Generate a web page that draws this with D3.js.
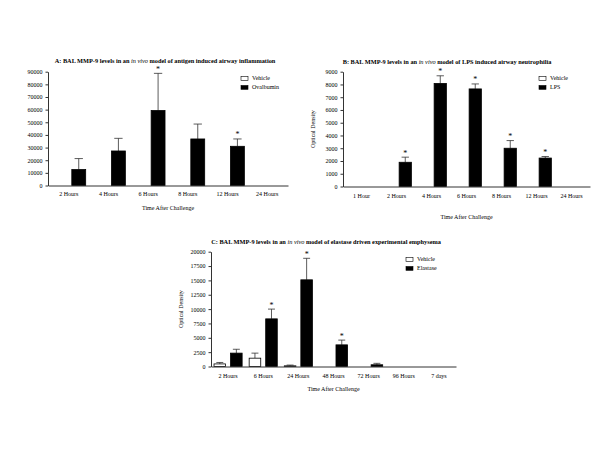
<!DOCTYPE html>
<html>
<head>
<meta charset="utf-8">
<script src="https://cdn.jsdelivr.net/npm/d3@7"></script>
<style>
  body { margin: 0; background: #fff; }
  svg { font-family: "Liberation Serif", "DejaVu Serif", serif; }
</style>
</head>
<body>
<svg id="fig" width="600" height="450"></svg>
<script>
// panel A - antigen induced airway inflammation
const catsA = ["2 Hours", "4 Hours", "6 Hours", "8 Hours", "12 Hours", "24 Hours"];
const vehA = [0, 0, 0, 0, 0, 0];
const vehErrA = [0, 0, 0, 0, 0, 0];
const ovaA = [12600, 27300, 59300, 36800, 31000, 0];
const ovaErrA = [21300, 37300, 88700, 48600, 36800, 0];
const sigA = [0, 0, 1, 0, 1, 0];
const ticksA = [0, 10000, 20000, 30000, 40000, 50000, 60000, 70000, 80000, 90000];

// panel B - LPS induced airway neutrophilia
const catsB = ["1 Hour", "2 Hours", "4 Hours", "6 Hours", "8 Hours", "12 Hours", "24 Hours"];
const vehB = [0, 0, 0, 0, 0, 0, 0];
const vehErrB = [0, 0, 0, 0, 0, 0, 0];
const lpsB = [0, 1900, 8080, 7650, 3000, 2230, 0];
const lpsErrB = [0, 2300, 8680, 8040, 3600, 2350, 0];
const sigB = [0, 1, 1, 1, 1, 1, 0];
const ticksB = [0, 1000, 2000, 3000, 4000, 5000, 6000, 7000, 8000, 9000];

// panel C - elastase driven emphysema
const catsC = ["2 Hours", "6 Hours", "24 Hours", "48 Hours", "72 Hours", "96 Hours", "7 days"];
const vehC = [450, 1450, 120, 0, 0, 0, 0];
const vehErrC = [700, 2330, 250, 0, 0, 0, 0];
const elaC = [2330, 8300, 15100, 3770, 300, 0, 0];
const elaErrC = [3000, 10000, 18850, 4600, 550, 0, 0];
const sigC = [0, 1, 1, 1, 0, 0, 0];
const ticksC = [0, 2500, 5000, 7500, 10000, 12500, 15000, 17500, 20000];

const svg = d3.select("#fig");

function drawPanel(p) {
    const g = svg.append("g");

    const x0 = d3.scaleBand().domain(p.cats).range(p.xr)
        .paddingInner(p.pi).paddingOuter(p.po);
    const x1 = d3.scaleBand().domain(["veh", "trt"]).range([0, x0.bandwidth()])
        .paddingInner(0.3);
    const y = d3.scaleLinear().domain([0, p.ymax]).range(p.yr);

    const rows = [];
    p.cats.forEach((c, i) => {
        rows.push({ cat: c, s: "veh", v: p.veh[i], e: p.vehErr[i], sig: 0 });
        rows.push({ cat: c, s: "trt", v: p.trt[i], e: p.trtErr[i], sig: p.sig[i] });
    });
    const shown = rows.filter(d => d.v > 0);

    // error bars (upper only)
    const eb = shown.filter(d => d.e > d.v);
    const cx = d => x0(d.cat) + x1(d.s) + x1.bandwidth() / 2;
    const cap = x1.bandwidth() * 0.3;
    g.selectAll(".err").data(eb).enter().append("line")
        .attr("x1", cx).attr("x2", cx)
        .attr("y1", d => y(d.v)).attr("y2", d => y(d.e))
        .attr("stroke", "#333").attr("stroke-width", 0.8);
    g.selectAll(".cap").data(eb).enter().append("line")
        .attr("x1", d => cx(d) - cap).attr("x2", d => cx(d) + cap)
        .attr("y1", d => y(d.e)).attr("y2", d => y(d.e))
        .attr("stroke", "#333").attr("stroke-width", 0.8);

    g.selectAll(".bar").data(shown).enter().append("rect")
        .attr("x", d => x0(d.cat) + x1(d.s))
        .attr("width", x1.bandwidth())
        .attr("y", d => y(d.v))
        .attr("height", d => y(0) - y(d.v))
        .attr("fill", d => d.s === "veh" ? "#fff" : "#000")
        .attr("stroke", "#000").attr("stroke-width", 0.8);

    g.selectAll(".sig").data(shown.filter(d => d.sig)).enter().append("text")
        .attr("x", cx)
        .attr("y", d => y(Math.max(d.e, d.v)) - 1.5)
        .attr("text-anchor", "middle")
        .style("font-size", "8px")
        .text("*");

    // axes
    const yAxis = d3.axisLeft(y).tickValues(p.ticks).tickSize(2.5).tickSizeOuter(0)
        .tickFormat(d3.format("d"));
    g.append("g").attr("transform", `translate(${p.xr[0]},0)`).call(yAxis)
        .call(a => a.selectAll("text").attr("fill", "#000")
            .style("font-size", "6px").style("font-family", "Liberation Serif"))
        .call(a => a.selectAll("line,path").attr("stroke", "#333"));

    const xAxis = d3.axisBottom(x0).tickSize(0).tickPadding(p.tickPad);
    g.append("g").attr("transform", `translate(0,${p.yr[0]})`).call(xAxis)
        .call(a => a.selectAll("text").attr("fill", "#000")
            .style("font-size", "6px").style("font-family", "Liberation Serif"))
        .call(a => a.select("path").attr("stroke", "#333"));

    g.append("text")
        .attr("x", (p.xr[0] + p.xr[1]) / 2).attr("y", p.xTitleY)
        .attr("text-anchor", "middle").style("font-size", "6px")
        .text("Time After Challenge");

    if (p.yTitleX) {
        g.append("text")
            .attr("transform", `translate(${p.yTitleX},${(p.yr[0] + p.yr[1]) / 2}) rotate(-90)`)
            .attr("text-anchor", "middle").style("font-size", "6px")
            .text("Optical Density");
    }

    // title with italic "in vivo"
    const t = g.append("text")
        .attr("x", p.titleX).attr("y", p.titleY)
        .attr("text-anchor", "middle")
        .style("font-size", "6.3px").style("font-weight", "bold");
    t.append("tspan").text(p.title[0]);
    t.append("tspan").style("font-style", "italic").style("font-weight", "normal").text("in vivo");
    t.append("tspan").text(p.title[1]);

    // legend
    const lg = g.append("g").attr("transform", `translate(${p.leg[0]},${p.leg[1]})`);
    [["Vehicle", "#fff"], [p.trtName, "#000"]].forEach((l, i) => {
        lg.append("rect").attr("x", 0).attr("y", i * 9 - 2)
            .attr("width", 7).attr("height", 3.8)
            .attr("fill", l[1]).attr("stroke", "#000").attr("stroke-width", 0.6);
        lg.append("text").attr("x", 11).attr("y", i * 9 + 1.8)
            .style("font-size", "6px").text(l[0]);
    });
}

drawPanel({
    cats: catsA, veh: vehA, vehErr: vehErrA, trt: ovaA, trtErr: ovaErrA, sig: sigA,
    ticks: ticksA, ymax: 90000, xr: [48, 288], yr: [185.5, 71.7], pi: 0.15, po: 0.1,
    tickPad: 6, xTitleY: 210,
    title: ["A: BAL MMP-9 levels in an ", " model of antigen induced airway inflammation"],
    titleX: 165, titleY: 63, leg: [241, 78.5], trtName: "Ovalbumin"
});

drawPanel({
    cats: catsB, veh: vehB, vehErr: vehErrB, trt: lpsB, trtErr: lpsErrB, sig: sigB,
    ticks: ticksB, ymax: 9000, xr: [343, 590], yr: [186.5, 71.7], pi: 0.15, po: 0.104,
    tickPad: 7.5, xTitleY: 219, yTitleX: 315,
    title: ["B: BAL MMP-9 levels in an ", " model of LPS induced airway neutrophilia"],
    titleX: 447, titleY: 64, leg: [539, 78.5], trtName: "LPS"
});

drawPanel({
    cats: catsC, veh: vehC, vehErr: vehErrC, trt: elaC, trtErr: elaErrC, sig: sigC,
    ticks: ticksC, ymax: 20000, xr: [211, 456], yr: [366.5, 251.7], pi: 0.2, po: 0.086,
    tickPad: 7, xTitleY: 391, yTitleX: 183,
    title: ["C: BAL MMP-9 levels in an ", " model of elastase driven experimental emphysema"],
    titleX: 326, titleY: 244, leg: [406, 259.5], trtName: "Elastase"
});
</script>
</body>
</html>
